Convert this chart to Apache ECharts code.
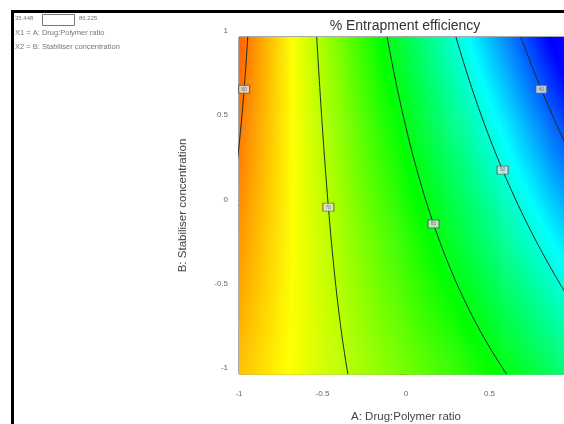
<!DOCTYPE html>
<html>
<head>
<meta charset="utf-8">
<script src="https://cdn.jsdelivr.net/npm/echarts@6/dist/echarts.min.js"></script>
<style>
  html, body { margin: 0; padding: 0; background: #fff; }
  #chart { width: 564px; height: 424px; }
</style>
</head>
<body>
<div id="chart"></div>
<script>
// Fitted response surface in coded factors:
// EE = b0 + bA*A + bB*B + bAB*A*B + bAA*A^2 + bBB*B^2 + bAAA*A^3
const modelTerms = ['b0', 'A', 'B', 'AB', 'A^2', 'B^2', 'A^3'];
const modelCoefs = [62.2, -17.0, -4.65, -7.0, -1.0, -0.25, -1.0];

// Colour scale range (observed responses)
const responseRange = [35.448, 86.225];
const rampColors = ['#0000ff', '#00ffff', '#00ff00', '#ffff00', '#ff0000'];

// Contour levels and where each level's tag sits along B
const contourLevels = [80, 70, 60, 50, 40];
const contourLabelB = [0.69, -0.01, -0.11, 0.21, 0.69];

// Axis ticks (coded units)
const axisTicks = [-1, -0.5, 0, 0.5, 1];

const legendLines = ['X1 = A: Drug:Polymer ratio', 'X2 = B: Stabiliser concentration'];

const [b0, bA, bB, bAB, bAA, bBB, bAAA] = modelCoefs;
function predict(a, b) {
  return b0 + bA * a + bB * b + bAB * a * b + bAA * a * a + bBB * b * b + bAAA * a * a * a;
}
// The response falls steadily with A, so bisection finds the contour's A at a given B
function solveA(b, level) {
  let lo = -2.5, hi = 2.5;
  for (let k = 0; k < 60; k++) {
    const mid = (lo + hi) / 2;
    if (predict(mid, b) > level) lo = mid; else hi = mid;
  }
  return (lo + hi) / 2;
}

// Surface cells
const N = 170;
const step = 2 / N;
const surface = [];
for (let i = 0; i < N; i++) {
  const a = -1 + (i + 0.5) * step;
  for (let j = 0; j < N; j++) {
    const b = -1 + (j + 0.5) * step;
    surface.push([a, b, predict(a, b)]);
  }
}

// Contour polylines
const contourSeries = contourLevels.map(function (level) {
  const pts = [];
  for (let k = 0; k <= 200; k++) {
    const b = -1 + k * 0.01;
    pts.push([solveA(b, level), b]);
  }
  return {
    type: 'line', data: pts, showSymbol: false, clip: true, silent: true,
    lineStyle: { color: '#1f2a1f', width: 1 }, z: 5, animation: false
  };
});

// Contour tags
const tagData = contourLevels.map(function (level, i) {
  const b = contourLabelB[i];
  return { value: [solveA(b, level), b], level: level };
});

const chart = echarts.init(document.getElementById('chart'), null, { renderer: 'canvas' });

const fontFamily = 'Liberation Sans, Arial, sans-serif';
const axisCommon = {
  type: 'value', min: -1, max: 1, interval: 0.5,
  splitLine: { show: false },
  axisLine: { show: true, lineStyle: { color: '#3a3a3a', width: 1 } },
  axisTick: { show: true, length: 7, lineStyle: { color: '#666' } },
  nameLocation: 'middle',
  nameTextStyle: { fontSize: 11.5, color: '#444', fontFamily: fontFamily }
};

chart.setOption({
  animation: false,
  backgroundColor: '#ffffff',
  title: {
    text: '% Entrapment efficiency',
    left: 400, top: 14, textAlign: 'center',
    textStyle: { fontSize: 14, fontWeight: 'normal', color: '#333', fontFamily: fontFamily }
  },
  grid: {
    left: 239, top: 37, width: 334, height: 337,
    outerBoundsMode: 'none', containLabel: false,
    show: true, borderColor: '#555', borderWidth: 1, backgroundColor: 'transparent'
  },
  xAxis: Object.assign({}, axisCommon, {
    name: 'A: Drug:Polymer ratio', nameGap: 37,
    axisLabel: { fontSize: 8, color: '#666', margin: 16, fontFamily: fontFamily,
      formatter: function (v) { return axisTicks.indexOf(v) >= 0 ? String(v) : ''; } }
  }),
  yAxis: Object.assign({}, axisCommon, {
    name: 'B: Stabiliser concentration', nameGap: 50,
    axisLabel: { fontSize: 8, color: '#666', margin: 11, verticalAlign: 'bottom', padding: [0, 0, 2, 0],
      fontFamily: fontFamily,
      formatter: function (v) { return axisTicks.indexOf(v) >= 0 ? String(v) : ''; } }
  }),
  visualMap: {
    show: false, type: 'continuous', min: responseRange[0], max: responseRange[1],
    dimension: 2, seriesIndex: 0, inRange: { color: rampColors }
  },
  series: [
    {
      type: 'custom', data: surface, progressive: 0, silent: true, z: 1,
      encode: { x: 0, y: 1 },
      renderItem: function (params, api) {
        const a = api.value(0), b = api.value(1);
        const p0 = api.coord([a - step / 2, b + step / 2]);
        const p1 = api.coord([a + step / 2, b - step / 2]);
        return {
          type: 'rect',
          shape: { x: p0[0], y: p0[1], width: p1[0] - p0[0] + 0.6, height: p1[1] - p0[1] + 0.6 },
          style: { fill: api.visual('color') }
        };
      }
    }
  ].concat(contourSeries).concat([
    {
      type: 'scatter', data: tagData, symbol: 'rect', symbolSize: [11, 8], z: 10, silent: true,
      itemStyle: { color: '#e6e6e6', borderColor: '#555', borderWidth: 1 },
      label: {
        show: true, position: 'inside', fontSize: 5, color: '#666',
        formatter: function (p) { return String(p.data.level); }
      }
    }
  ]),
  graphic: [
    { type: 'rect', shape: { x: 12.5, y: 11.5, width: 700, height: 600 },
      style: { fill: 'none', stroke: '#000', lineWidth: 3 }, z: 100 },
    { type: 'text', left: 15, top: 15,
      style: { text: String(responseRange[0]), fontSize: 6, fill: '#777', fontFamily: fontFamily } },
    { type: 'rect', shape: { x: 42.5, y: 14.5, width: 32, height: 11 },
      style: { fill: '#fff', stroke: '#777', lineWidth: 1 } },
    { type: 'text', left: 79, top: 15,
      style: { text: String(responseRange[1]), fontSize: 6, fill: '#777', fontFamily: fontFamily } },
    { type: 'text', left: 15, top: 29,
      style: { text: legendLines[0], fontSize: 7.5, fill: '#777', fontFamily: fontFamily } },
    { type: 'text', left: 15, top: 43,
      style: { text: legendLines[1], fontSize: 7.5, fill: '#777', fontFamily: fontFamily } }
  ]
});
</script>
</body>
</html>
